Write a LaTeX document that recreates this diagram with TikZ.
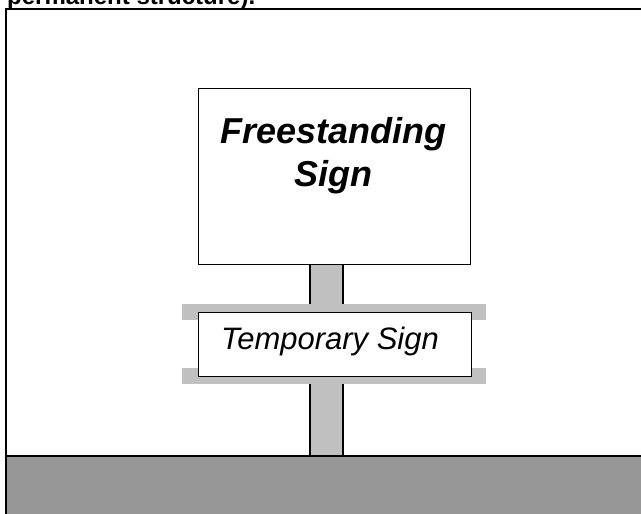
\documentclass[tikz,border=0pt]{standalone}
\usepackage{fontspec}
\setmainfont{Liberation Sans}
\definecolor{ground}{RGB}{150,150,150}
\definecolor{post}{RGB}{192,192,192}
\begin{document}
\begin{tikzpicture}[x=1pt,y=-1pt,
  frame/.style={draw=black,line width=1.6pt},
  signbox/.style={draw=black,line width=1.2pt,fill=white},
  postbar/.style={fill=post},
  postline/.style={draw=black,line width=1.2pt,fill=post}]
\useasboundingbox (0,0) rectangle (641,514);
\clip (0,0) rectangle (641,514);
% cut-off caption
\node[anchor=base west,inner sep=0pt,font=\bfseries\fontsize{24}{28}\selectfont] (cap) at (7,5) {permanent structure).};
% frame
\draw[frame,fill=white] (6,9) rectangle (650,520);
% ground
\draw[frame,fill=ground] (6,456) rectangle (650,520);
% post
\draw[postline] (310,264) rectangle (343,456);
% freestanding sign
\node[signbox,minimum width=272pt,minimum height=176pt,anchor=north west,inner sep=0pt] (fs) at (198,88) {};
\node[align=center,font=\bfseries\itshape\fontsize{36}{43}\selectfont,anchor=base] (fst) at (333.5,186) {Freestanding\\Sign};
% bars
\fill[postbar] (182,304) rectangle (486,320);
\fill[postbar] (182,368) rectangle (486,384);
% temporary sign
\node[signbox,minimum width=273pt,minimum height=64pt,anchor=north west,inner sep=0pt] (ts) at (198,312) {};
\node[font=\itshape\fontsize{31}{36}\selectfont,anchor=base,inner sep=0pt] (tst) at (330,349) {Temporary Sign};
\end{tikzpicture}
\end{document}
